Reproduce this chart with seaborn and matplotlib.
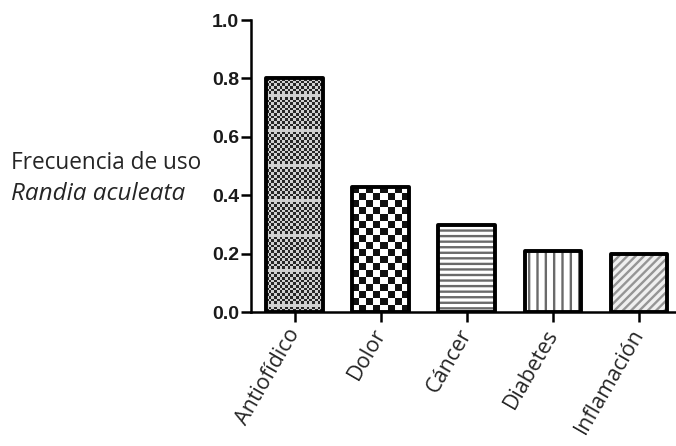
import numpy as np
import pandas as pd
import matplotlib
matplotlib.use("Agg")
import matplotlib.pyplot as plt
from matplotlib.patches import Rectangle
import seaborn as sns

categories = ["Antiofídico", "Dolor", "Cáncer", "Diabetes", "Inflamación"]
frequencies = [0.80, 0.43, 0.30, 0.21, 0.20]
y_ticks = [0.0, 0.2, 0.4, 0.6, 0.8, 1.0]

sns.set_style("white")
plt.rcParams["hatch.linewidth"] = 1.7

df = pd.DataFrame({"uso": categories, "frecuencia": frequencies})

fig = plt.figure(figsize=(6.76, 4.46), dpi=100)
ax = fig.add_axes([0.371, 0.300, 0.629, 0.655])

sns.barplot(data=df, x="uso", y="frecuencia", color="white", edgecolor="black",
            linewidth=2.8, width=0.66, ax=ax, saturation=1)

ax.set_ylim(0, 1.0)
ax.set_xlim(-0.51, 4.43)
fig.canvas.draw()


def checker_fill(bar, cell_px, dark, light, bands=None):
    """Fill a bar with a checkerboard clipped to its outline."""
    x0, y0 = bar.get_x(), bar.get_y()
    w, h = bar.get_width(), bar.get_height()
    p0 = ax.transData.transform((x0, y0))
    p1 = ax.transData.transform((x0 + w, y0 + h))
    nx = max(1, int(round((p1[0] - p0[0]) / cell_px)))
    ny = max(1, int(round((p1[1] - p0[1]) / cell_px)))
    grid = (np.add.outer(np.arange(ny), np.arange(nx)) % 2).astype(float)
    if bands is not None:
        # lighter streaks across the texture
        for r in range(bands // 2, ny, bands):
            grid[r, :] = 1.0
    cmap = matplotlib.colors.ListedColormap([dark, light])
    im = ax.imshow(grid, cmap=cmap, extent=(x0, x0 + w, y0, y0 + h),
                   interpolation="nearest", aspect="auto", zorder=2)
    im.set_clip_path(bar)
    return im


bars = list(ax.patches)
for b in bars:
    b.set_linewidth(0)
    b.set_zorder(2)

checker_fill(bars[0], 2.7, "#262626", "#d0d0d0", bands=13)
checker_fill(bars[1], 7.0, "#111111", "#ffffff")
bars[0].set_facecolor("none")
bars[1].set_facecolor("none")

# gray line textures (edge colour drives the hatch colour)
bars[2].set_hatch("---")
bars[2].set_edgecolor("#6a6a6a")
bars[3].set_hatch("||")
bars[3].set_edgecolor("#6a6a6a")
bars[4].set_hatch("////")
bars[4].set_edgecolor("#959595")
bars[4].set_facecolor("#efefef")

# black outlines on top of the textures
for b in bars:
    ax.add_patch(Rectangle((b.get_x(), b.get_y()), b.get_width(), b.get_height(),
                           fill=False, edgecolor="black", linewidth=2.8,
                           joinstyle="round", zorder=3))

ax.set_ylim(0, 1.0)
ax.set_xlim(-0.51, 4.43)
ax.set_yticks(y_ticks)
ax.set_yticklabels([f"{v:.1f}" for v in y_ticks], fontsize=14, fontweight="bold",
                   family="Liberation Sans", color="#1a1a1a")
ax.set_xticks(range(len(categories)))
ax.set_xticklabels(categories, rotation=60, ha="right", va="center",
                   rotation_mode="anchor", fontsize=15.5, family="Open Sans")
ax.tick_params(axis="both", direction="out", length=7, width=1.8, color="black",
               left=True, bottom=True, pad=1.5)
ax.tick_params(axis="x", pad=6)
ax.set_xlabel("")
ax.set_ylabel("")
for side in ["top", "right"]:
    ax.spines[side].set_visible(False)
for side in ["left", "bottom"]:
    ax.spines[side].set_linewidth(1.8)
    ax.spines[side].set_color("black")
ax.spines["left"].set_zorder(4)
ax.spines["bottom"].set_zorder(4)

fig.text(0.016, 0.635, "Frecuencia de uso", fontsize=16.3, family="Open Sans",
         va="center", ha="left")
fig.text(0.016, 0.565, "Randia aculeata", fontsize=17.5, family="Open Sans",
         style="italic", va="center", ha="left")

fig.savefig("out.png", dpi=100)
